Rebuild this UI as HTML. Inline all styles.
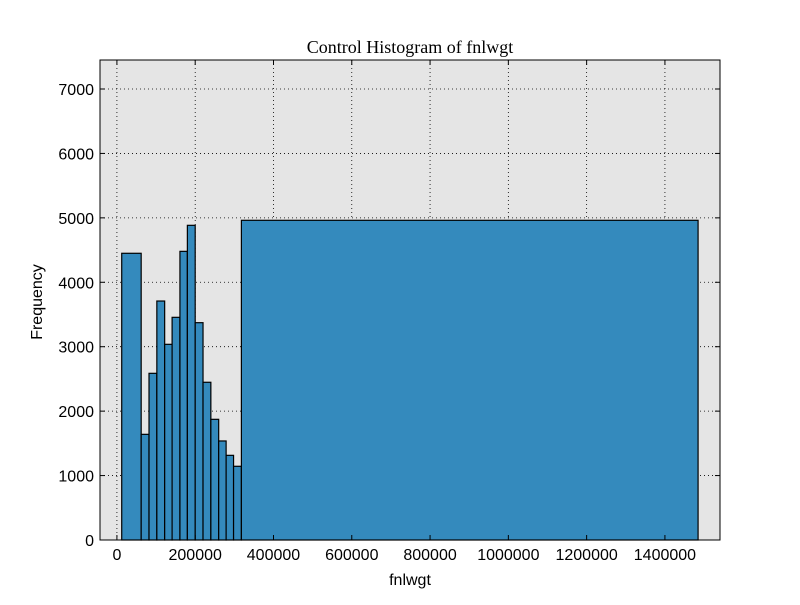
<!DOCTYPE html>
<html><head><meta charset="utf-8"><style>
body{margin:0;background:#fff;width:800px;height:600px;overflow:hidden}
text{font-family:"Liberation Sans",sans-serif}
</style></head><body>
<svg id="chart" width="800" height="600">
<rect x="0" y="0" width="800" height="600" fill="#fff"/>
<rect x="100" y="60" width="620" height="480" fill="#e5e5e5"/>
<g id="grid"></g>
<g id="bars"></g>
<rect x="100" y="60" width="620" height="480" fill="none" stroke="#000" stroke-width="1"/>
<g id="ticks"></g>
<text x="410" y="53" text-anchor="middle" font-size="18" style="font-family:'Liberation Serif',serif">Control Histogram of fnlwgt</text>
<text x="410" y="585" text-anchor="middle" font-size="16">fnlwgt</text>
<text x="42" y="302" text-anchor="middle" font-size="16" transform="rotate(-90 42 302)">Frequency</text>
</svg>
<script>
const binEdges=[12285,62000,82000,102000,122000,141000,161000,180000,200000,220000,240000,260000,279000,298000,318000,1484705];
const counts=[4450,1640,2587,3709,3037,3456,4480,4884,3373,2448,1873,1537,1314,1144,4962];
const xTicks=[0,200000,400000,600000,800000,1000000,1200000,1400000];
const yTicks=[0,1000,2000,3000,4000,5000,6000,7000];
const X0=100,X1=720,Y0=540,Y1=60;
const xMin=-43200,xMax=1540700,yMin=0,yMax=7450;
const sx=v=>X0+(v-xMin)/(xMax-xMin)*(X1-X0);
const sy=v=>Y0-(v-yMin)/(yMax-yMin)*(Y0-Y1);
const NS="http://www.w3.org/2000/svg";
function mk(t,a,p){const e=document.createElementNS(NS,t);for(const k in a)e.setAttribute(k,a[k]);p.appendChild(e);return e;}
const grid=document.getElementById('grid'),bars=document.getElementById('bars'),ticks=document.getElementById('ticks');
xTicks.forEach(t=>{const x=sx(t);
 const g=mk('line',{x1:x,x2:x,y1:Y1,y2:Y0,stroke:'#000','stroke-dasharray':'1,3','stroke-width':0.8},grid);
 
 
 mk('line',{x1:x,x2:x,y1:Y0,y2:Y0-5,stroke:'#000'},ticks);
 mk('line',{x1:x,x2:x,y1:Y1,y2:Y1+5,stroke:'#000'},ticks);
 const l=mk('text',{x:x,y:Y0+20,'text-anchor':'middle','font-size':16},ticks);l.textContent=t;
 
 
});
yTicks.forEach(t=>{const y=sy(t);
 const g=mk('line',{x1:X0,x2:X1,y1:y,y2:y,stroke:'#000','stroke-dasharray':'1,3','stroke-width':0.8},grid);
 
 
 mk('line',{x1:X0,x2:X0+5,y1:y,y2:y,stroke:'#000'},ticks);
 mk('line',{x1:X1,x2:X1-5,y1:y,y2:y,stroke:'#000'},ticks);
 const l=mk('text',{x:X0-6,y:y+6,'text-anchor':'end','font-size':16},ticks);l.textContent=t;
 
 
});
counts.forEach((c,i)=>{const xa=sx(binEdges[i]),xb=sx(binEdges[i+1]);
 const r=mk('rect',{x:xa,y:sy(c),width:xb-xa,height:sy(0)-sy(c),fill:'#348abd',stroke:'#000','stroke-width':1.2},bars);
 
 
});
</script>
</body></html>
